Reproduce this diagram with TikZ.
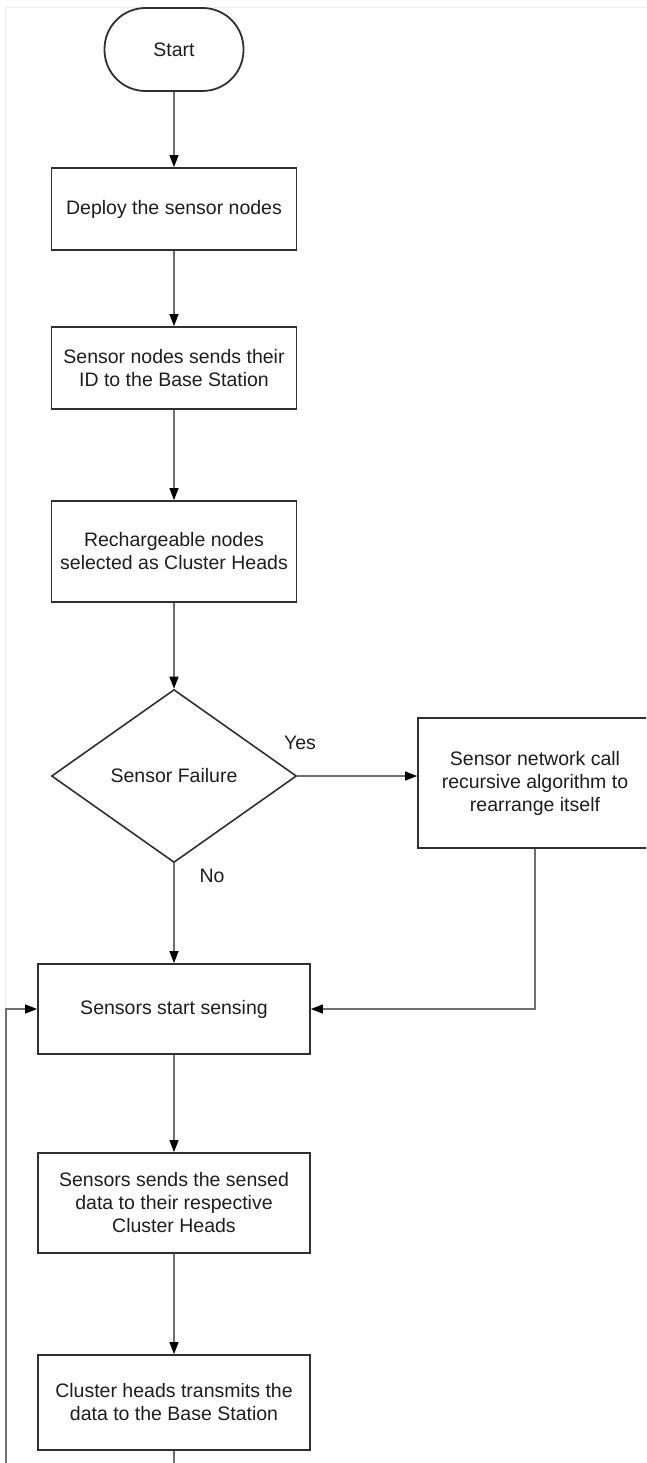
\documentclass[tikz,border=0pt]{standalone}
\usepackage{fontspec}
\setmainfont{Liberation Sans}
\usetikzlibrary{shapes.geometric,arrows.meta}
\definecolor{edgec}{HTML}{303030}
\definecolor{connc}{HTML}{707070}
\definecolor{txtc}{HTML}{1E1E1E}
\definecolor{pagec}{HTML}{EDEDED}
\begin{document}
\begin{tikzpicture}[x=1pt,y=-1pt,
  every node/.style={font=\fontsize{19.5}{23}\selectfont, text=txtc},
  box/.style={draw=edgec, line width=1.8pt, rectangle, align=center, inner sep=0pt},
  term/.style={box, rounded corners=41pt},
  decision/.style={draw=edgec, line width=1.6pt, shape=diamond, inner sep=0pt, align=center},
  conn/.style={draw=connc, line width=1.2pt},
  arr/.style={conn, -{Triangle[length=12pt,width=9pt,color=black]}},
  lbl/.style={inner sep=0pt}
]
\useasboundingbox (0,0) rectangle (646,1463);
\clip (0,0) rectangle (646,1463);
\fill[white] (0,0) rectangle (646,1463);
\draw[pagec, line width=1pt] (5,1470) -- (5,8) -- (660,8);

\node[term, minimum width=139pt, minimum height=83pt] (start) at (174,49.5) {Start};
\node[box, minimum width=245pt, minimum height=82pt] (b1) at (174,209) {Deploy the sensor nodes};
\node[box, minimum width=245pt, minimum height=82pt] (b2) at (174,368) {Sensor nodes sends their\\ID to the Base Station};
\node[box, minimum width=245pt, minimum height=101pt] (b3) at (174,551.5) {Rechargeable nodes\\selected as Cluster Heads};
\node[decision, minimum width=245pt, minimum height=173pt] (dec) at (174,776) {Sensor Failure};
\node[box, minimum width=234pt, minimum height=130pt] (rb) at (535,783) {Sensor network call\\recursive algorithm to\\rearrange itself};
\node[box, minimum width=272pt, minimum height=90pt] (b4) at (174,1009) {Sensors start sensing};
\node[box, minimum width=272pt, minimum height=100pt] (b5) at (174,1203) {Sensors sends the sensed\\data to their respective\\Cluster Heads};
\node[box, minimum width=272pt, minimum height=95pt] (b6) at (174,1402.5) {Cluster heads transmits the\\data to the Base Station};

\node[lbl] (yes) at (300,743) {Yes};
\node[lbl] (no) at (212,876) {No};

\coordinate (lb) at (174,1480);
\coordinate (lc) at (6,1480);

\draw[arr] (start) -- (b1);
\draw[arr] (b1) -- (b2);
\draw[arr] (b2) -- (b3);
\draw[arr] (b3) -- (dec);
\draw[arr] (dec.east) -- (rb.west |- dec.east);
\draw[arr] (dec.south) -- (b4.north);
\draw[arr] (rb.south) |- (b4.east);
\draw[arr] (b4) -- (b5);
\draw[arr] (b5) -- (b6);
\draw[arr] (b6.south) -- (lb) -- (lc) |- (b4.west);
\end{tikzpicture}
\end{document}
